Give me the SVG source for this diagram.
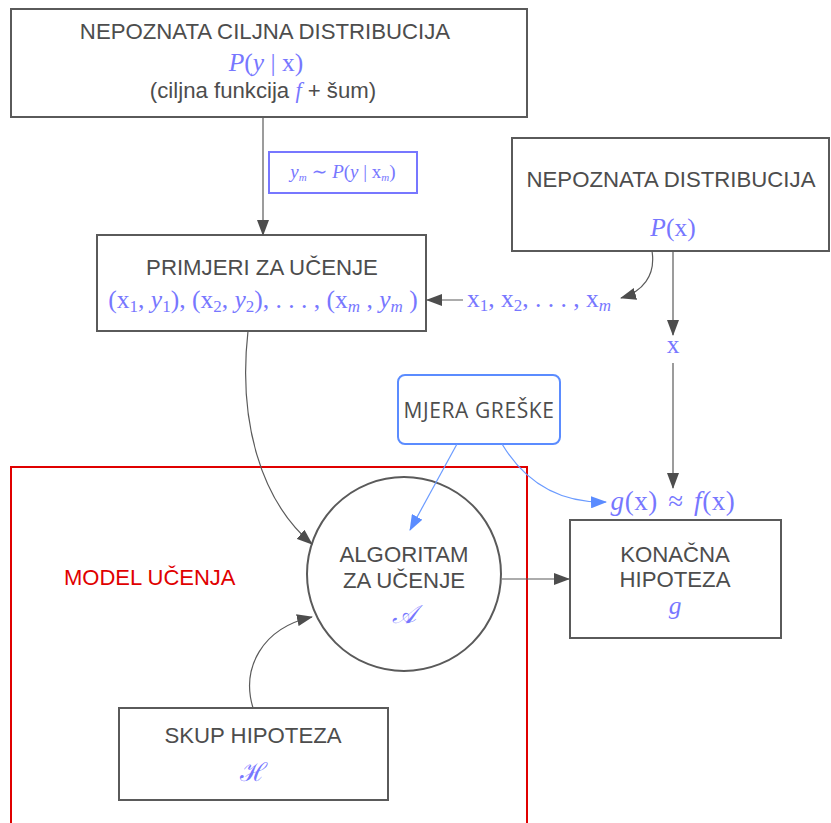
<svg xmlns="http://www.w3.org/2000/svg" width="831" height="823" viewBox="0 0 831 823">
<style>
.lbl{font-family:"Liberation Sans",Arial,sans-serif;font-size:22.2px;fill:#4d4d4d;text-anchor:middle}
.red{font-family:"Liberation Sans",Arial,sans-serif;font-size:22px;fill:#e00000}
.os{font-family:"Open Sans","Noto Sans",sans-serif;font-size:21px;letter-spacing:0.6px;fill:#4d4d4d;text-anchor:middle}
.m{font-family:"Liberation Serif","DejaVu Serif",serif;font-size:25.5px;fill:#7777ff;text-anchor:middle}
.i{font-style:italic}
.sub{font-size:17px}
.box{fill:#fff;stroke:#5a5a5a;stroke-width:2}
.edge{fill:none;stroke:#5a5a5a;stroke-width:1.2}
.bedge{fill:none;stroke:#6b9bff;stroke-width:1.2}
</style>
<defs>
<marker id="ah" markerUnits="userSpaceOnUse" markerWidth="16" markerHeight="12" refX="15" refY="6" orient="auto">
<path d="M0,0 L16,6 L0,12 Z" fill="#4d4d4d"/>
</marker>
<marker id="bh" markerUnits="userSpaceOnUse" markerWidth="16" markerHeight="12" refX="15" refY="6" orient="auto">
<path d="M0,0 L16,6 L0,12 Z" fill="#5b8cff"/>
</marker>
</defs>

<rect id="model-ucenja" x="11" y="467" width="516" height="380" fill="none" stroke="#e00000" stroke-width="2"/>
<text class="red" x="64" y="585">MODEL UČENJA</text>

<g id="nepoznata-ciljna-distribucija">
<rect class="box" x="11" y="9" width="516" height="108"/>
<text class="lbl" x="265" y="39">NEPOZNATA CILJNA DISTRIBUCIJA</text>
<text class="m" x="266" y="71"><tspan class="i">P</tspan>(<tspan class="i">y</tspan> | x)</text>
<text class="lbl" x="263" y="98">(ciljna funkcija <tspan class="i" style="font-family:'Liberation Serif',serif;fill:#7777ff">f</tspan> + šum)</text>
</g>

<g id="oznaka-ym">
<rect x="269" y="152" width="148" height="41" fill="#fff" stroke="#7777ff" stroke-width="2"/>
<text class="m" x="343" y="178" style="font-size:19px"><tspan class="i">y</tspan><tspan class="i" style="font-size:11px" dy="3">m</tspan><tspan dy="-3"> ∼ </tspan><tspan class="i">P</tspan>(<tspan class="i">y</tspan> | x<tspan class="i" style="font-size:11px" dy="3">m</tspan><tspan dy="-3">)</tspan></text>
</g>

<g id="primjeri-za-ucenje">
<rect class="box" x="97" y="235" width="329" height="96"/>
<text class="lbl" x="262" y="275">PRIMJERI ZA UČENJE</text>
<text class="m" x="263" y="308">(x<tspan class="sub" dy="4">1</tspan><tspan dy="-4">, </tspan><tspan class="i">y</tspan><tspan class="sub" dy="4">1</tspan><tspan dy="-4">), (x</tspan><tspan class="sub" dy="4">2</tspan><tspan dy="-4">, </tspan><tspan class="i">y</tspan><tspan class="sub" dy="4">2</tspan><tspan dy="-4">), . . . , (x</tspan><tspan class="sub i" dy="4">m</tspan><tspan dy="-4"> , </tspan><tspan class="i">y</tspan><tspan class="sub i" dy="4">m</tspan><tspan dy="-4"> )</tspan></text>
</g>

<g id="nepoznata-distribucija">
<rect class="box" x="512" y="138" width="317" height="113"/>
<text class="lbl" x="671" y="187">NEPOZNATA DISTRIBUCIJA</text>
<text class="m" x="673" y="236"><tspan class="i">P</tspan>(x)</text>
</g>

<g id="uzorci-x">
<text class="m" x="539" y="307">x<tspan class="sub" dy="4">1</tspan><tspan dy="-4">, x</tspan><tspan class="sub" dy="4">2</tspan><tspan dy="-4">, . . . , x</tspan><tspan class="sub i" dy="4">m</tspan></text>
</g>

<g id="oznaka-x">
<text class="m" x="673" y="353">x</text>
</g>

<g id="mjera-greske">
<rect x="398" y="375" width="162" height="69" rx="7" fill="#fff" stroke="#5b8cff" stroke-width="2"/>
<text class="os" x="479" y="418">MJERA GREŠKE</text>
</g>

<g id="oznaka-gx">
<text class="m" x="673" y="510" style="font-size:27px;word-spacing:3px;letter-spacing:0.6px"><tspan class="i">g</tspan>(x) ≈ <tspan class="i">f</tspan>(x)</text>
</g>

<g id="algoritam-za-ucenje">
<circle cx="404" cy="574" r="97" fill="#fff" stroke="#5a5a5a" stroke-width="2"/>
<text class="lbl" x="404" y="562">ALGORITAM</text>
<text class="lbl" x="404" y="588">ZA UČENJE</text>
<text class="m" x="404" y="623"><tspan class="i">𝒜</tspan></text>
</g>

<g id="konacna-hipoteza">
<rect class="box" x="570" y="520" width="211" height="118"/>
<text class="lbl" x="675" y="562">KONAČNA</text>
<text class="lbl" x="675" y="587">HIPOTEZA</text>
<text class="m" x="675" y="614"><tspan class="i">g</tspan></text>
</g>

<g id="skup-hipoteza">
<rect class="box" x="119" y="708" width="269" height="92"/>
<text class="lbl" x="253" y="743">SKUP HIPOTEZA</text>
<text class="m" x="253" y="781">ℋ</text>
</g>

<g id="connectors">
<line class="edge" x1="263" y1="117" x2="263" y2="235" marker-end="url(#ah)"/>
<path class="edge" d="M652,251 C656,276 642,292 621,298" marker-end="url(#ah)"/>
<line class="edge" x1="673" y1="251" x2="673" y2="335" marker-end="url(#ah)"/>
<line class="edge" x1="673" y1="363" x2="673" y2="488" marker-end="url(#ah)"/>
<line class="edge" x1="463" y1="300" x2="427" y2="300" marker-end="url(#ah)"/>
<path class="edge" d="M248,331 C238,420 260,500 312,544" marker-end="url(#ah)"/>
<path class="edge" d="M253,708 C241,668 262,628 312,617" marker-end="url(#ah)"/>
<line class="edge" x1="502" y1="579" x2="569" y2="579" marker-end="url(#ah)"/>
<line class="bedge" x1="457" y1="444" x2="410" y2="530" marker-end="url(#bh)"/>
<path class="bedge" d="M502,444 C525,482 560,503 606,502" marker-end="url(#bh)"/>
</g>
</svg>
